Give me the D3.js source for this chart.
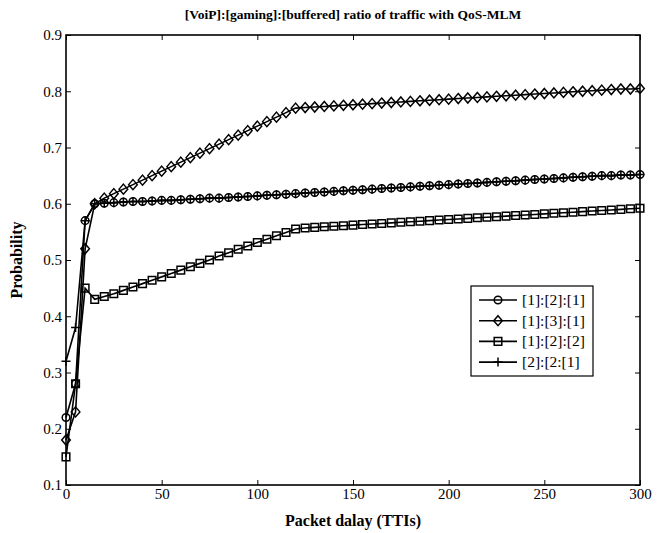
<!DOCTYPE html>
<html>
<head>
<meta charset="utf-8">
<script src="https://cdn.jsdelivr.net/npm/d3@7"></script>
<style>
  body { margin: 0; background: #fff; }
  text { font-family: "Liberation Serif", "Times New Roman", serif; }
</style>
</head>
<body>
<script>
// packet delay (TTIs)
var delays = [0,5,10,15,20,25,30,35,40,45,50,55,60,65,70,75,80,85,90,95,100,
  105,110,115,120,125,130,135,140,145,150,155,160,165,170,175,180,185,190,195,200,
  205,210,215,220,225,230,235,240,245,250,255,260,265,270,275,280,285,290,295,300]

var r121 = [0.22,0.28,0.57,0.600,0.601,0.602,0.603,0.604,0.604,0.605,0.606,
  0.606,0.607,0.608,0.609,0.610,0.610,0.611,0.612,0.613,0.614,
  0.615,0.616,0.617,0.618,0.619,0.620,0.621,0.622,0.623,0.624,
  0.625,0.626,0.627,0.628,0.629,0.630,0.631,0.632,0.633,0.634,
  0.635,0.636,0.637,0.638,0.639,0.640,0.641,0.642,0.643,0.644,
  0.645,0.646,0.647,0.648,0.649,0.650,0.650,0.651,0.651,0.652]

var r131 = [0.18,0.23,0.52,0.60,0.610,0.618,0.626,0.634,0.642,0.650,0.658,
  0.666,0.674,0.682,0.690,0.698,0.706,0.714,0.722,0.730,0.738,
  0.746,0.754,0.762,0.770,0.771,0.772,0.773,0.774,0.775,0.776,
  0.777,0.778,0.779,0.780,0.781,0.782,0.783,0.784,0.785,0.786,
  0.787,0.788,0.789,0.790,0.791,0.792,0.793,0.794,0.795,0.796,
  0.797,0.798,0.799,0.800,0.801,0.802,0.803,0.804,0.804,0.805]

var r122 = [0.15,0.28,0.45,0.43,0.435,0.440,0.446,0.452,0.458,0.464,0.470,
  0.476,0.482,0.488,0.494,0.500,0.507,0.513,0.519,0.525,0.531,
  0.537,0.543,0.549,0.555,0.557,0.558,0.559,0.560,0.561,0.562,
  0.563,0.564,0.565,0.566,0.567,0.568,0.569,0.570,0.571,0.572,
  0.573,0.574,0.575,0.576,0.577,0.578,0.579,0.580,0.581,0.582,
  0.583,0.584,0.585,0.586,0.587,0.588,0.589,0.590,0.591,0.592]

var r221 = [0.32,0.38,0.57,0.600,0.601,0.602,0.603,0.604,0.604,0.605,0.606,
  0.606,0.607,0.608,0.609,0.610,0.610,0.611,0.612,0.613,0.614,
  0.615,0.616,0.617,0.618,0.619,0.620,0.621,0.622,0.623,0.624,
  0.625,0.626,0.627,0.628,0.629,0.630,0.631,0.632,0.633,0.634,
  0.635,0.636,0.637,0.638,0.639,0.640,0.641,0.642,0.643,0.644,
  0.645,0.646,0.647,0.648,0.649,0.650,0.650,0.651,0.651,0.652]

var seriesNames = ["[1]:[2]:[1]", "[1]:[3]:[1]", "[1]:[2]:[2]", "[2]:[2:[1]"]
var seriesMarkers = ["circle", "diamond", "square", "plus"]
var seriesValues = [r121, r131, r122, r221]

var xTicks = [0,50,100,150,200,250,300]
var yTicks = [0.1,0.2,0.3,0.4,0.5,0.6,0.7,0.8,0.9]

var W = 668, H = 533
var margin = {top: 35, right: 28, bottom: 48, left: 66}
var width = W - margin.left - margin.right,
    height = H - margin.top - margin.bottom

var svg = d3.select("body").append("svg")
  .attr("width", W).attr("height", H)

var g = svg.append("g")
  .attr("transform", "translate(" + margin.left + "," + margin.top + ")")

var x = d3.scaleLinear().domain([0, 300]).range([0, width])
var y = d3.scaleLinear().domain([0.1, 0.9]).range([height, 0])

// marker shapes, unfilled like matlab
function markerPath(type) {
  if (type == "circle") return "M-3.8,0A3.8,3.8 0 1,0 3.8,0A3.8,3.8 0 1,0 -3.8,0Z"
  if (type == "diamond") return "M0,-5L4.3,0L0,5L-4.3,0Z"
  if (type == "square") return "M-3.8,-3.8H3.8V3.8H-3.8Z"
  return "M-4.5,0H4.5M0,-4.5V4.5"
}

// axes with inward ticks
var fmt = d3.format(".1f")
g.append("g").attr("class", "x axis")
  .attr("transform", "translate(0," + height + ")")
  .call(d3.axisBottom(x).tickValues(xTicks).tickSizeInner(-5).tickSizeOuter(0).tickPadding(3))
g.append("g").attr("class", "x axis top")
  .call(d3.axisTop(x).tickValues(xTicks).tickSizeInner(-5).tickSizeOuter(0).tickFormat(""))
g.append("g").attr("class", "y axis")
  .call(d3.axisLeft(y).tickValues(yTicks).tickSizeInner(-5).tickSizeOuter(0).tickPadding(4).tickFormat(fmt))
g.append("g").attr("class", "y axis right")
  .attr("transform", "translate(" + width + ",0)")
  .call(d3.axisRight(y).tickValues(yTicks).tickSizeInner(-5).tickSizeOuter(0).tickFormat(""))

g.selectAll(".axis .domain").remove()
g.selectAll(".axis").attr("font-family", "Liberation Serif")
g.selectAll(".axis text")
  .attr("font-family", "Liberation Serif")
  .attr("font-size", 15)
  .attr("fill", "#000")
g.selectAll(".axis line").attr("stroke", "#000").attr("stroke-width", 1)

g.append("rect")
  .attr("width", width).attr("height", height)
  .attr("fill", "none").attr("stroke", "#000").attr("stroke-width", 1.6)

// series
var line = d3.line()
  .x(function(d, i) { return x(delays[i]) })
  .y(function(d) { return y(d) })

for (let s = 0; s < seriesValues.length; s++) {
  var sg = g.append("g")
  sg.append("path")
    .attr("d", line(seriesValues[s]))
    .attr("fill", "none")
    .attr("stroke", "#000")
    .attr("stroke-width", 1.6)
  sg.selectAll("path.mk")
    .data(seriesValues[s])
    .enter().append("path")
    .attr("class", "mk")
    .attr("transform", (d, i) => "translate(" + x(delays[i]) + "," + y(d) + ")")
    .attr("d", markerPath(seriesMarkers[s]))
    .attr("fill", "none")
    .attr("stroke", "#000")
    .attr("stroke-width", 1.5)
}

// title and labels
svg.append("text")
  .attr("x", margin.left + width / 2).attr("y", 19)
  .attr("text-anchor", "middle")
  .attr("font-weight", "bold").attr("font-size", 13.5)
  .text("[VoiP]:[gaming]:[buffered] ratio of traffic with QoS-MLM")

svg.append("text")
  .attr("x", margin.left + width / 2).attr("y", 526)
  .attr("text-anchor", "middle")
  .attr("font-weight", "bold").attr("font-size", 16)
  .text("Packet dalay (TTIs)")

svg.append("text")
  .attr("transform", "translate(22," + (margin.top + height / 2) + ") rotate(-90)")
  .attr("text-anchor", "middle")
  .attr("font-weight", "bold").attr("font-size", 16)
  .text("Probability")

// legend
var lg = svg.append("g").attr("transform", "translate(471,286)")
lg.append("rect")
  .attr("width", 122).attr("height", 90)
  .attr("fill", "#fff").attr("stroke", "#000").attr("stroke-width", 1.2)

for (let s = 0; s < seriesNames.length; s++) {
  var ly = 14 + s * 20.7
  lg.append("line")
    .attr("x1", 8).attr("x2", 46).attr("y1", ly).attr("y2", ly)
    .attr("stroke", "#000").attr("stroke-width", 1.6)
  lg.append("path")
    .attr("transform", "translate(27," + ly + ")")
    .attr("d", markerPath(seriesMarkers[s]))
    .attr("fill", "none").attr("stroke", "#000").attr("stroke-width", 1.5)
  lg.append("text")
    .attr("x", 51).attr("y", ly + 5)
    .attr("font-size", 15.5)
    .text(seriesNames[s])
}
</script>
</body>
</html>
